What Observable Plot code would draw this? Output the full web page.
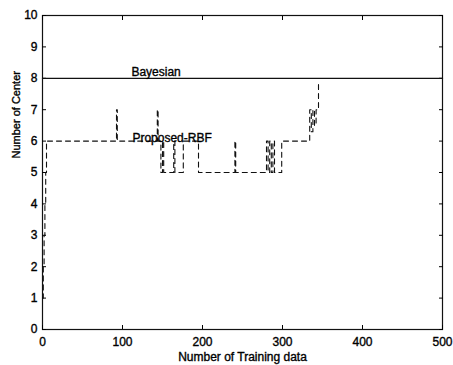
<!DOCTYPE html>
<html>
<head>
<meta charset="utf-8">
<script src="https://cdn.jsdelivr.net/npm/d3@7"></script>
<script src="https://cdn.jsdelivr.net/npm/@observablehq/plot@0.6"></script>
<style>
  html, body { margin: 0; padding: 0; background: #fff; }
  svg { display: block; }
  /* slightly heavier glyphs for all chart text */
  #chart svg text { stroke: #000; stroke-width: 0.35px; paint-order: stroke; }
</style>
</head>
<body>
<div id="chart"></div>
<script>
// Number of centers selected by the proposed RBF network (change points, step-after)
const rbfX = [0, 1, 2, 3, 4, 5, 92.5, 93.5, 143.5, 144.5, 148, 150, 151.5, 164, 165.5, 176, 195, 240.5, 241.5, 280, 282, 284, 286, 288, 290, 299, 334, 336, 338, 340, 342, 345];
const rbfY = [1, 2, 3, 4, 5, 6, 7, 6, 7, 6, 5, 6, 5, 6, 5, 6, 5, 6, 5, 6, 5, 6, 5, 6, 5, 6, 7, 6.3, 7, 6.5, 7, 7.8];

// Bayesian reference: constant number of centers
const bayesX = [0, 500];
const bayesY = [8, 8];

const xTicks = [0, 100, 200, 300, 400, 500];
const yTicks = [0, 1, 2, 3, 4, 5, 6, 7, 8, 9, 10];

const rbf = rbfX.map((x, i) => ({x, y: rbfY[i]}));
const bayes = bayesX.map((x, i) => ({x, y: bayesY[i]}));

const labels = [
  {x: 142, y: 8.06, text: "Bayesian"},
  {x: 162, y: 5.98, text: "Proposed-RBF"}
];

const chart = Plot.plot({
  width: 453,
  height: 365,
  marginTop: 15,
  marginBottom: 36,
  marginLeft: 42,
  marginRight: 11,
  style: {fontFamily: "'Liberation Sans', Arial, sans-serif", fontSize: "12px", color: "#000", background: "#fff"},
  x: {domain: [0, 500], ticks: xTicks},
  y: {domain: [0, 10], ticks: yTicks},
  marks: [
    Plot.frame({stroke: "#111", strokeWidth: 1.2}),
    Plot.axisX({ticks: xTicks, tickSize: -4, tickPadding: 12, label: "Number of Training data", labelAnchor: "center", labelArrow: "none", labelOffset: 31}),
    Plot.axisX({ticks: xTicks, anchor: "top", tickSize: -4, tickFormat: () => "", label: null}),
    Plot.axisY({ticks: yTicks, tickSize: -4, tickPadding: 9, label: null}),
    Plot.axisY({ticks: yTicks, anchor: "right", tickSize: -4, tickFormat: () => "", label: null}),
    Plot.text(["Number of Center"], {frameAnchor: "left", rotate: -90, dx: -26, dy: -14, fontSize: 11, fill: "#000"}),
    Plot.line(bayes, {x: "x", y: "y", stroke: "#111", strokeWidth: 1.3}),
    Plot.line(rbf, {x: "x", y: "y", curve: "step-after", stroke: "#111", strokeWidth: 1.1, strokeDasharray: "5,4"}),
    Plot.text(labels, {x: "x", y: "y", text: "text", textAnchor: "middle", lineAnchor: "bottom", fontSize: 12, fill: "#000"})
  ]
});

document.getElementById("chart").appendChild(chart);
</script>
</body>
</html>
